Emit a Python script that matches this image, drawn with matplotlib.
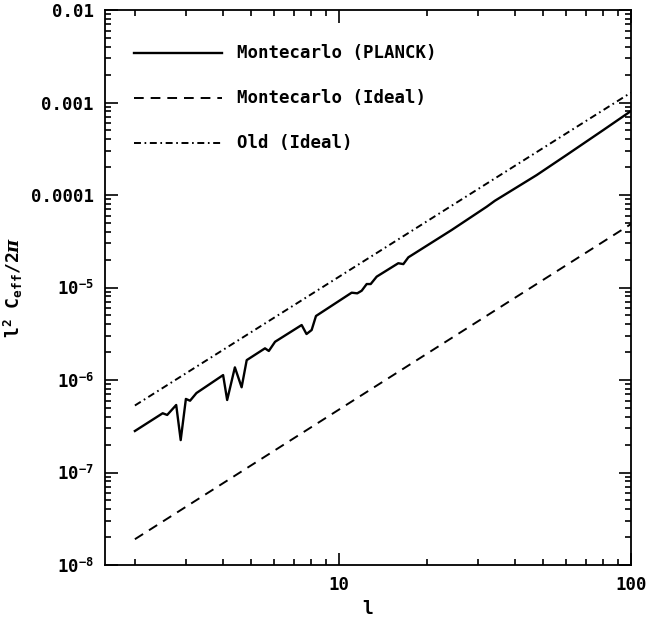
import matplotlib
matplotlib.use("Agg")
import matplotlib.pyplot as plt
from matplotlib.ticker import FixedLocator, NullFormatter, FixedFormatter

plt.rcParams['font.family'] = ['DejaVu Sans Mono']
plt.rcParams['font.weight'] = 'bold'
plt.rcParams['mathtext.fontset'] = 'custom'
plt.rcParams['mathtext.rm'] = 'DejaVu Sans Mono:bold'
plt.rcParams['mathtext.it'] = 'DejaVu Serif:italic:bold'
plt.rcParams['mathtext.bf'] = 'DejaVu Sans Mono:bold'
plt.rcParams['lines.scale_dashes'] = False

# Montecarlo (PLANCK)
l_planck = [2.0, 2.49, 2.58, 2.77, 2.87, 2.99, 3.09, 3.25, 4.01, 4.14, 4.40, 4.64, 4.83,
            5.58, 5.75, 6.04, 7.45, 7.74, 8.06, 8.34, 11.05, 11.55, 11.96, 12.44, 12.84,
            13.46, 15.96, 16.61, 17.28, 24.3, 32.05, 34.2, 47.5, 60.2, 80.4, 100.0]
c_planck = [2.81e-7, 4.37e-7, 4.19e-7, 5.37e-7, 2.24e-7, 6.24e-7, 5.97e-7, 7.23e-7, 1.13e-6,
            6.08e-7, 1.37e-6, 8.34e-7, 1.64e-6, 2.20e-6, 2.06e-6, 2.59e-6, 3.93e-6, 3.14e-6,
            3.47e-6, 4.92e-6, 8.79e-6, 8.65e-6, 9.23e-6, 1.09e-5, 1.09e-5, 1.31e-5, 1.83e-5,
            1.79e-5, 2.12e-5, 4.18e-5, 7.47e-5, 8.67e-5, 1.64e-4, 2.71e-4, 5.04e-4, 8.09e-4]
# Montecarlo (Ideal)
l_mc_ideal = [2.0, 100.0]
c_mc_ideal = [1.9e-8, 4.85e-5]
# Old (Ideal)
l_old = [2.0, 100.0]
c_old = [5.3e-7, 1.28e-3]

labels = ["Montecarlo (PLANCK)", "Montecarlo (Ideal)", "Old (Ideal)"]
ytick_vals = [1e-8, 1e-7, 1e-6, 1e-5, 1e-4, 1e-3, 1e-2]
ytick_labels = [r'10$^{-8}$', r'10$^{-7}$', r'10$^{-6}$', r'10$^{-5}$', '0.0001', '0.001', '0.01']
xtick_vals = [10, 100]
xtick_labels = ['10', '100']

W, H = 647, 618
fig = plt.figure(figsize=(W / 100, H / 100), dpi=100)
ax = fig.add_axes([105 / W, 1 - 565 / H, 526 / W, 555 / H])

styles = [dict(ls='-', lw=1.7),
          dict(ls=(0, (7.0, 5.0)), lw=1.4),
          dict(ls=(0, (5.0, 2.6, 1.2, 2.6)), lw=1.4)]
ax.plot(l_planck, c_planck, color='black', **styles[0])
ax.plot(l_mc_ideal, c_mc_ideal, color='black', **styles[1])
ax.plot(l_old, c_old, color='black', **styles[2])

ax.set_xscale('log')
ax.set_yscale('log')
ax.set_xlim(1.58, 100)
ax.set_ylim(1e-8, 1e-2)

ax.xaxis.set_major_locator(FixedLocator(xtick_vals))
ax.xaxis.set_major_formatter(FixedFormatter(xtick_labels))
ax.yaxis.set_major_locator(FixedLocator(ytick_vals))
ax.yaxis.set_major_formatter(FixedFormatter(ytick_labels))
ax.xaxis.set_minor_formatter(NullFormatter())
ax.yaxis.set_minor_formatter(NullFormatter())

ax.tick_params(which='both', direction='in', top=True, right=True, width=1.2, colors='black')
ax.tick_params(which='major', length=9, labelsize=12.5, pad=8)
ax.tick_params(which='minor', length=4.5)
for s in ax.spines.values():
    s.set_linewidth(1.3)

ax.set_xlabel('l', fontsize=13, fontweight='bold', labelpad=4)
ax.set_ylabel(r'l$^2$ C$_{\rm eff}$/2$\pi$', fontsize=13, fontweight='bold', labelpad=4)

# legend drawn in axes coordinates
rows = [0.9225, 0.8414, 0.760]
for lab, st, yy in zip(labels, styles, rows):
    ax.plot([0.055, 0.222], [yy, yy], transform=ax.transAxes, color='black', **st)
    ax.text(0.251, yy, lab, transform=ax.transAxes, fontsize=12.5, fontweight='bold',
            va='center', ha='left')

fig.savefig('out.png', dpi=100)
